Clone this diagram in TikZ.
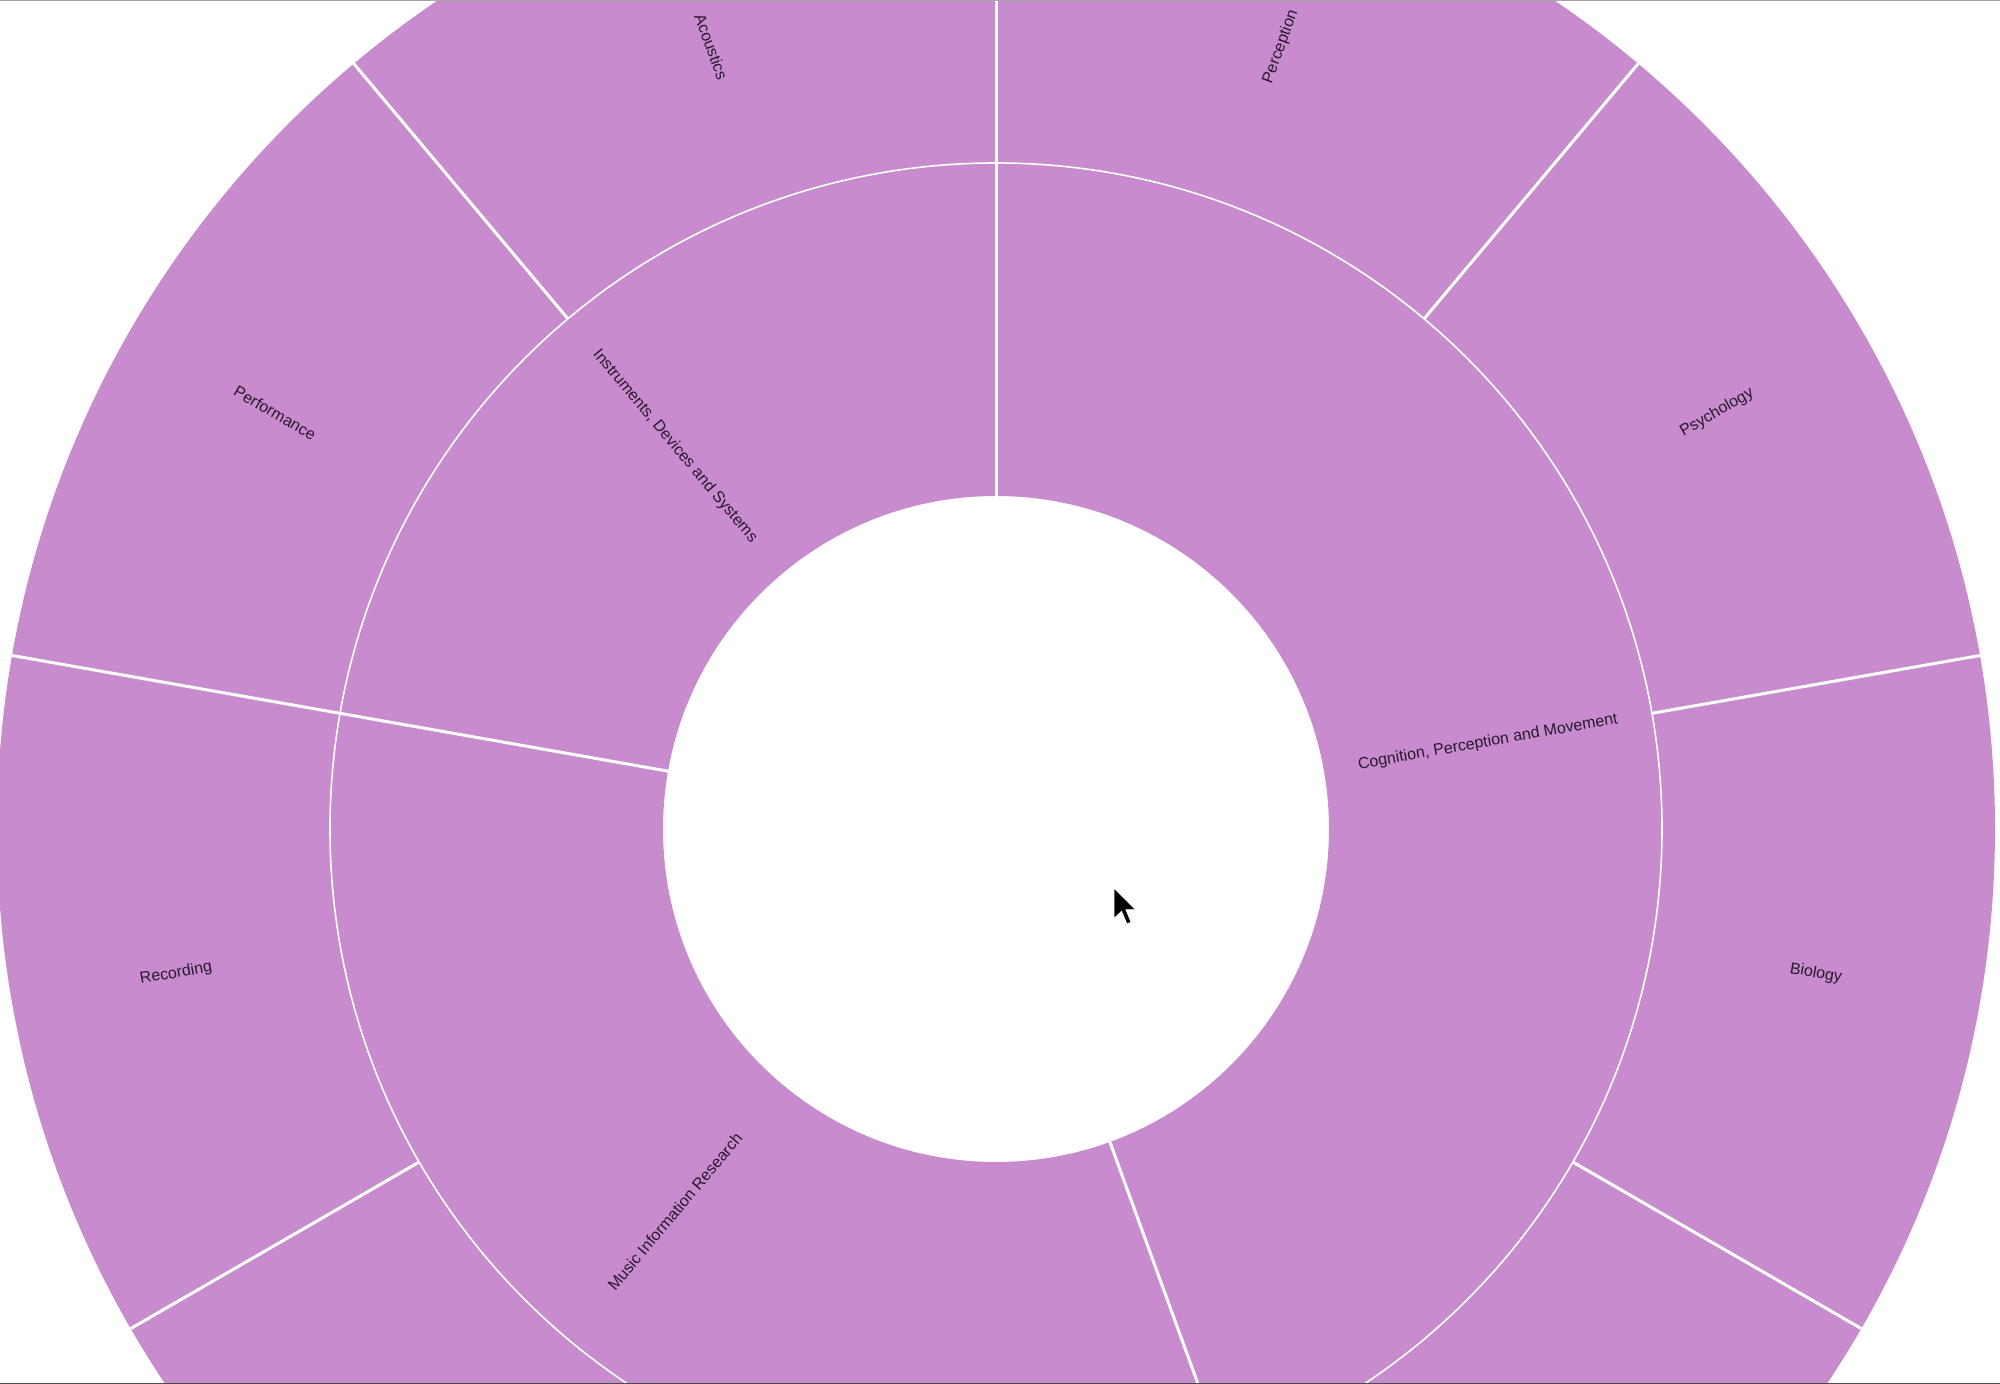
\documentclass[tikz,border=0pt]{standalone}
\usepackage{fontspec}
\setmainfont{Liberation Sans}
\definecolor{sunpurple}{RGB}{199,139,206}
\definecolor{labelink}{RGB}{40,25,45}
\begin{document}
\begin{tikzpicture}[x=0.5pt,y=0.5pt,
  seglabel/.style={text=labelink,font=\fontsize{8}{9.6}\selectfont,inner sep=0pt},
  radial/.style={draw=white,line width=1.5pt},
  ringline/.style={draw=white,line width=0.8pt}]
\useasboundingbox (-996,-555) rectangle (1004,829);
\begin{scope}
\clip (-996,-555) rectangle (1004,829);
\fill[white] (-996,-555) rectangle (1004,829);
% rings
\fill[sunpurple,even odd rule] (0,0) circle[radius=999] (0,0) circle[radius=333];
\draw[ringline] (0,0) circle[radius=666];
% inner-ring boundaries (full width)
\draw[radial] (90:333) -- (90:999);
\draw[radial] (170:333) -- (170:999);
\draw[radial] (-70:333) -- (-70:999);
% outer-ring boundaries
\foreach \a in {130,50,10,-30,210}
  \draw[radial] (\a:666) -- (\a:999);
% labels, inner ring
\node[seglabel,rotate=-50] (ids) at (130:499.5) {Instruments, Devices and Systems};
\node[seglabel,rotate=10] (cpm) at (10:499.5) {Cognition, Perception and Movement};
\node[seglabel,rotate=50] (mir) at (230:499.5) {Music Information Research};
% labels, outer ring
\node[seglabel,rotate=-70] (ac) at (110:832.5) {Acoustics};
\node[seglabel,rotate=-30] (pf) at (150:832.5) {Performance};
\node[seglabel,rotate=10] (rc) at (190:832.5) {Recording};
\node[seglabel,rotate=70] (pc) at (70:832.5) {Perception};
\node[seglabel,rotate=30] (ps) at (30:832.5) {Psychology};
\node[seglabel,rotate=-10] (bi) at (-10:832.5) {Biology};
% mouse cursor
\begin{scope}[shift={(118,-59)},x=0.95pt,y=-0.95pt]
\fill[black,draw=white,line width=0.4pt] (0,0) -- (0,16) -- (4,12.3) -- (6.8,19) -- (9,18) -- (6.3,11.4) -- (11.3,11.4) -- cycle;
\end{scope}
% frame lines
\draw[black!35,line width=0.75pt] (-996,829) -- (1004,829);
\draw[black!70,line width=1.5pt] (-996,-555) -- (1004,-555);
\end{scope}
\end{tikzpicture}
\end{document}
